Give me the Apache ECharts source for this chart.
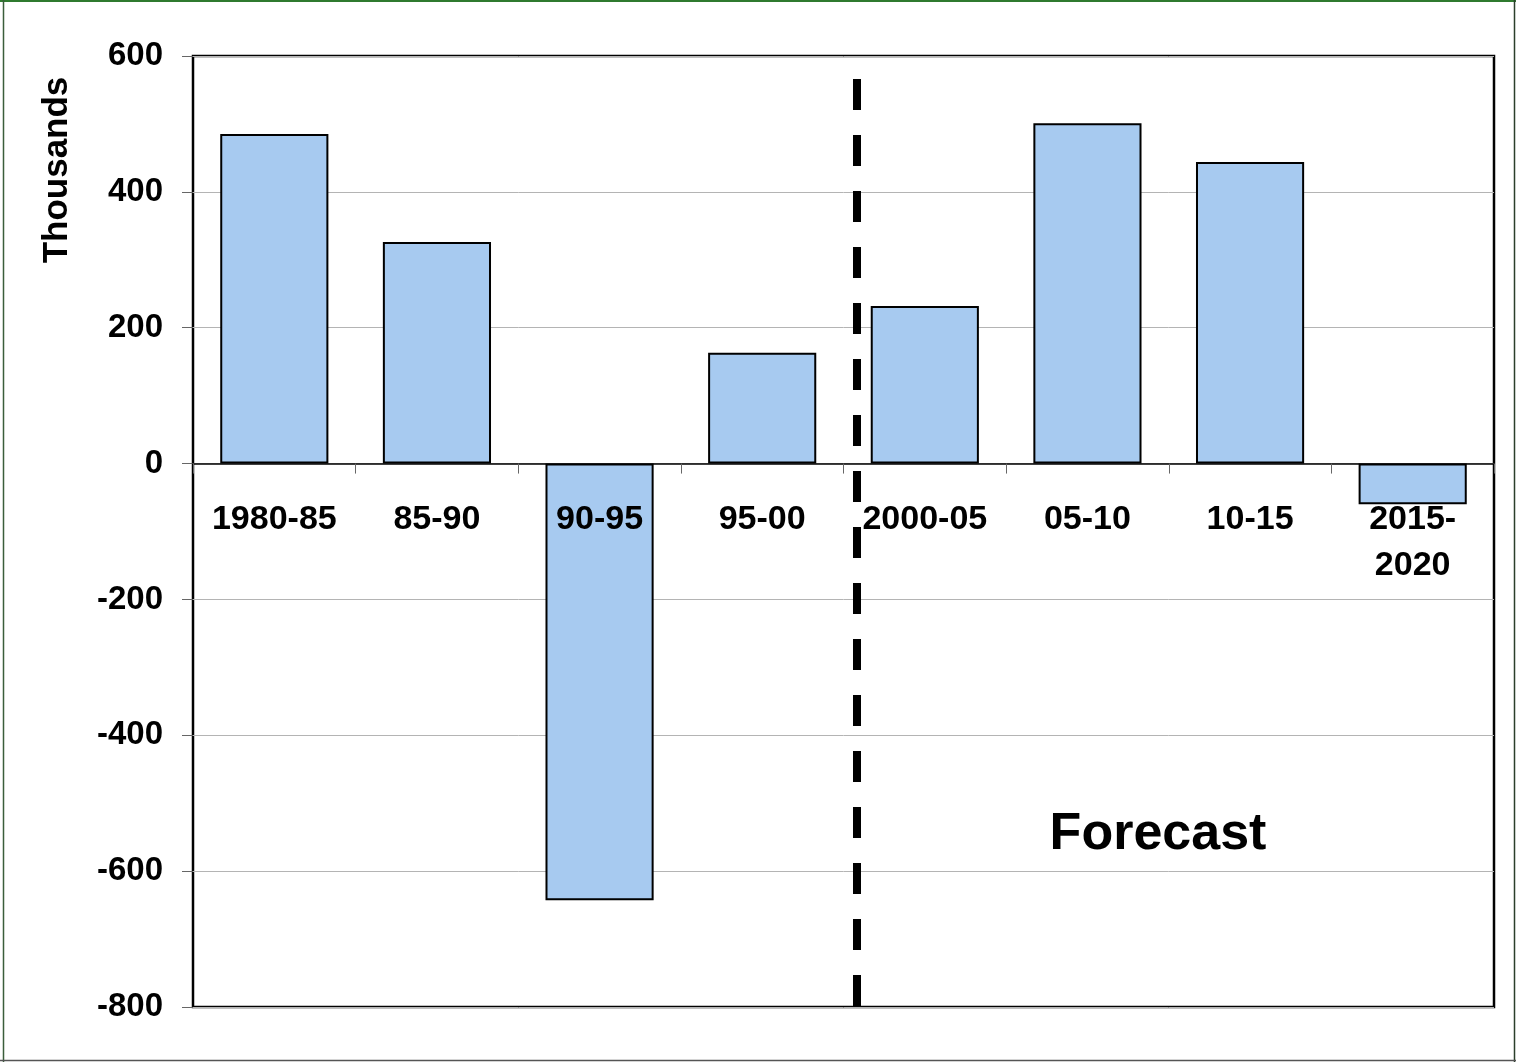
<!DOCTYPE html>
<html>
<head>
<meta charset="utf-8">
<script src="https://cdn.jsdelivr.net/npm/echarts@6/dist/echarts.min.js"></script>
<style>
  html, body { margin: 0; padding: 0; background: #fff; }
  #chart { width: 1516px; height: 1062px; }
</style>
</head>
<body>
<div id="chart"></div>
<script>
// Net migration per five-year period, in thousands
const periods = ['1980-85', '85-90', '90-95', '95-00', '2000-05', '05-10', '10-15', '2015-\n2020'];
const netMigration = [485, 326, -643, 163, 232, 501, 444, -60];
const yTicks = { min: -800, max: 600, step: 200 };

// Divider between history and forecast: position on a 0..8 band scale, top value
const dividerPos = 4.083;
const dividerTop = 566;

const FONT = '"Liberation Sans", Arial, Helvetica, sans-serif';

const W = 1516, H = 1062;
const gridBox = { left: 193, right: 22, top: 56, bottom: 55 };
const plotH = H - gridBox.top - gridBox.bottom;
// distance from the bottom edge of the plot up to the zero line
const zeroOffset = plotH * (0 - yTicks.min) / (yTicks.max - yTicks.min);

const chart = echarts.init(document.getElementById('chart'), null, { renderer: 'canvas' });

chart.setOption({
  animation: false,
  backgroundColor: '#ffffff',
  grid: Object.assign({
    show: true,
    borderColor: '#000',
    borderWidth: 2.5,
    backgroundColor: 'transparent',
    containLabel: false,
    outerBoundsMode: 'none'
  }, gridBox),
  xAxis: [
    {
      type: 'category',
      data: periods,
      position: 'bottom',
      offset: -zeroOffset,
      z: 10,
      axisLine: { onZero: false, lineStyle: { color: '#000', width: 1.5 } },
      axisTick: { show: true, length: 10, lineStyle: { color: '#666', width: 1 } },
      axisLabel: {
        margin: 33,
        color: '#000',
        fontFamily: FONT,
        fontWeight: 'bold',
        fontSize: 34,
        lineHeight: 46,
        interval: 0,
        hideOverlap: false
      },
      splitLine: { show: false }
    },
    {
      type: 'value',
      min: 0, max: 8,
      show: false
    }
  ],
  yAxis: {
    type: 'value',
    min: yTicks.min,
    max: yTicks.max,
    interval: yTicks.step,
    axisLine: { show: false },
    axisTick: { show: true, length: 11, lineStyle: { color: '#666', width: 1 } },
    axisLabel: {
      margin: 30,
      color: '#000',
      fontFamily: FONT,
      fontWeight: 'bold',
      fontSize: 33
    },
    splitLine: { show: true, lineStyle: { color: '#b4b4b4', width: 1 } }
  },
  series: [
    {
      type: 'bar',
      data: netMigration,
      barWidth: '66.5%',
      itemStyle: { color: '#A7CAF0', borderColor: '#000', borderWidth: 2 },
      z: 2
    },
    {
      type: 'line',
      xAxisIndex: 1,
      yAxisIndex: 0,
      data: [[dividerPos, dividerTop], [dividerPos, yTicks.min]],
      symbol: 'none',
      lineStyle: { color: '#000', width: 8, type: [31, 25], cap: 'butt' },
      z: 5,
      silent: true
    }
  ],
  graphic: [
    {
      type: 'text',
      x: 57, y: 170,
      rotation: Math.PI / 2,
      style: {
        text: 'Thousands',
        fill: '#000',
        font: 'bold 35px ' + FONT,
        textAlign: 'center',
        textVerticalAlign: 'middle'
      }
    },
    {
      type: 'text',
      x: 1158, y: 835,
      style: {
        text: 'Forecast',
        fill: '#000',
        font: 'bold 52px ' + FONT,
        textAlign: 'center',
        textVerticalAlign: 'middle'
      }
    },
    // outer frame
    { type: 'line', shape: { x1: 0, y1: 1, x2: W, y2: 1 }, style: { stroke: '#2f7a2f', lineWidth: 2 } },
    { type: 'line', shape: { x1: 3.5, y1: 0, x2: 3.5, y2: H }, style: { stroke: '#3b5e3b', lineWidth: 1.5 } },
    { type: 'line', shape: { x1: 1514.5, y1: 0, x2: 1514.5, y2: H }, style: { stroke: '#2b3f2b', lineWidth: 1.5 } },
    { type: 'line', shape: { x1: 0, y1: 1060.5, x2: W, y2: 1060.5 }, style: { stroke: '#555', lineWidth: 1.5 } }
  ]
});
</script>
</body>
</html>
